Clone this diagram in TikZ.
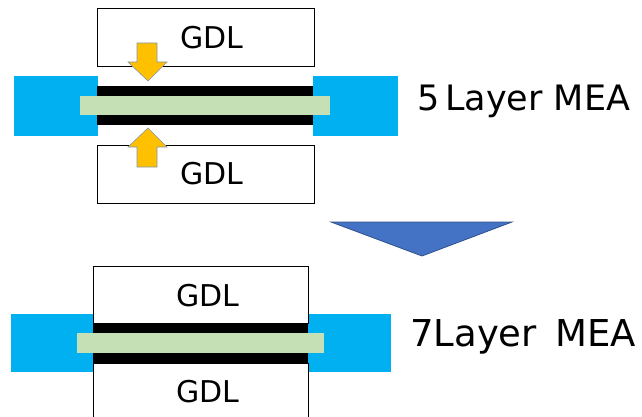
\documentclass[tikz,border=0pt]{standalone}
\usepackage{fontspec}
\setmainfont{DejaVu Sans}
\definecolor{frameblue}{HTML}{00B0F0}
\definecolor{membgreen}{HTML}{C5E0B4}
\definecolor{pressorange}{HTML}{FFC000}
\definecolor{pressedge}{HTML}{8497B0}
\definecolor{stepblue}{HTML}{4472C4}
\definecolor{stepedge}{HTML}{2F528F}
\tikzset{
	gdlbox/.style={draw=black, fill=white, line width=1pt},
	gdltext/.style={font=\fontsize{30}{36}\selectfont, inner sep=0pt},
	meatext/.style={font=\fontsize{35}{42}\selectfont, inner sep=0pt, anchor=west},
	pressarrow/.style={fill=pressorange, draw=pressedge, line width=0.6pt, line join=miter}
}

\begin{document}
\begin{tikzpicture}[x=1pt, y=-1pt]
			%%%%% START %%%%%
			\useasboundingbox (0, 0) rectangle (642, 417);
			
			% 5 layer
			\draw[gdlbox] (97, 9) rectangle (314, 67);
			\node[gdltext] (gdlA) at (212, 38) {GDL};
			
			\fill[frameblue] (14, 76) rectangle (98, 136);
			\fill[frameblue] (313, 76) rectangle (398, 136);
			\fill[black] (97, 86) rectangle (313, 125);
			\fill[membgreen] (80, 96) rectangle (330, 115);
			
			\draw[gdlbox] (97, 145) rectangle (314, 203);
			\node[gdltext] (gdlB) at (212, 174) {GDL};
			
			\draw[pressarrow] (137, 43) -- (157, 43) -- (157, 62) -- (167, 62) -- (148, 81) -- (128, 62) -- (137, 62) -- cycle;
			\draw[pressarrow] (137, 167) -- (157, 167) -- (157, 147) -- (167, 147) -- (148, 128) -- (128, 147) -- (137, 147) -- cycle;
			
			\node[meatext] (meaA) at (417, 101) {5\,Layer MEA};
			
			% step
			\draw[fill=stepblue, draw=stepedge, line width=0.8pt] (331, 222) -- (512, 222) -- (422, 256) -- cycle;
			
			% 7 layer
			\fill[frameblue] (11, 314) rectangle (93, 372);
			\fill[frameblue] (307, 314) rectangle (391, 372);
			\fill[black] (93, 323) rectangle (308, 363);
			\fill[membgreen] (77, 333) rectangle (324, 353);
			
			\draw[gdlbox] (93, 266) rectangle (308, 323);
			\node[gdltext] (gdlC) at (208, 296) {GDL};
			\draw[gdlbox] (93, 363) rectangle (308, 425);
			\node[gdltext] (gdlD) at (208, 392) {GDL};
			
			\node[meatext, font=\fontsize{37}{44}\selectfont] (meaB) at (410, 337) {7Layer\hspace{0.5em}MEA};
			
			%%%%% END %%%%%
		\end{tikzpicture}
\end{document}
